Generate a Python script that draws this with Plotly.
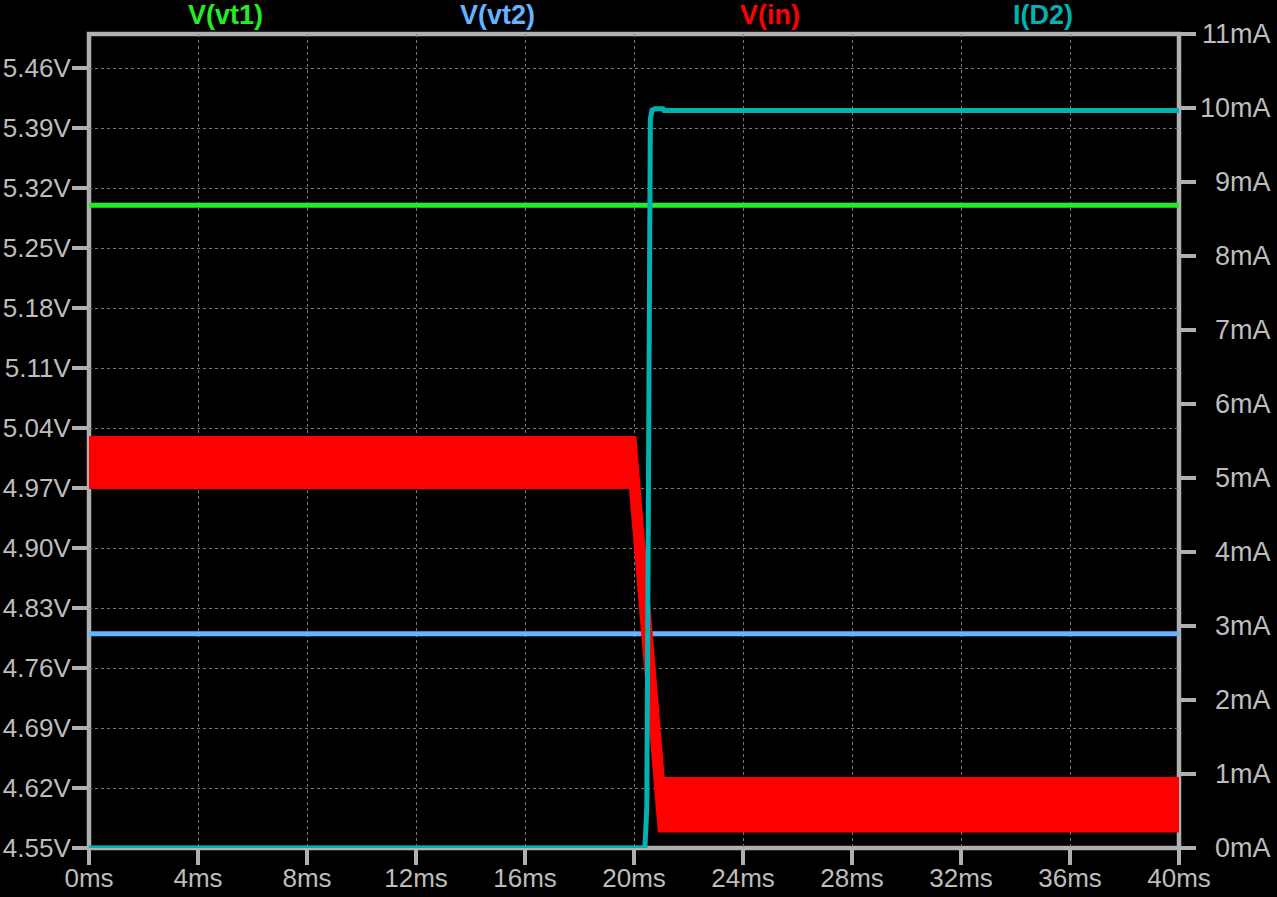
import plotly.graph_objects as go

# ---- data ----
t_range = [0, 40]
x_ticks = [0, 4, 8, 12, 16, 20, 24, 28, 32, 36, 40]
v_ticks = [4.55, 4.62, 4.69, 4.76, 4.83, 4.90, 4.97, 5.04, 5.11, 5.18, 5.25, 5.32, 5.39, 5.46]
i_ticks = [0, 1, 2, 3, 4, 5, 6, 7, 8, 9, 10, 11]

vt1_t = [0, 40]
vt1_v = [5.30, 5.30]

vt2_t = [0, 40]
vt2_v = [4.80, 4.80]

# V(in): noisy band, given as lower and upper envelope
vin_lo_t = [0, 19.84, 20.90, 40]
vin_lo_v = [4.970, 4.970, 4.569, 4.569]
vin_hi_t = [0, 20.06, 21.10, 40]
vin_hi_v = [5.030, 5.030, 4.632, 4.632]

id2_t = [0, 20.40, 20.47, 20.55, 20.60, 20.66, 20.76, 21.06, 21.10, 40]
id2_i = [0, 0, 0.55, 5.6, 9.85, 9.97, 9.99, 9.99, 9.966, 9.966]

GRAY = "#b0b0b0"
TXT = "#bdbdbd"
FONT = "Liberation Sans, Arial, sans-serif"
C_VT1, C_VT2, C_VIN, C_ID2 = "#22ee22", "#66b3ff", "#ff0000", "#00b2b2"

fig = go.Figure()
fig.add_trace(go.Scatter(x=vt1_t, y=vt1_v, mode="lines", line=dict(color=C_VT1, width=5), yaxis="y"))
fig.add_trace(go.Scatter(x=vt2_t, y=vt2_v, mode="lines", line=dict(color=C_VT2, width=5), yaxis="y"))
fig.add_trace(go.Scatter(x=vin_lo_t, y=vin_lo_v, mode="lines", line=dict(color=C_VIN, width=1.5), yaxis="y"))
fig.add_trace(go.Scatter(x=vin_hi_t, y=vin_hi_v, mode="lines", line=dict(color=C_VIN, width=1.5),
                         fill="tonexty", fillcolor=C_VIN, yaxis="y"))
fig.add_trace(go.Scatter(x=id2_t, y=id2_i, mode="lines", line=dict(color=C_ID2, width=5), yaxis="y2"))

# plot frame
fig.add_shape(type="rect", xref="paper", yref="paper", x0=0, y0=0, x1=1, y1=1,
              line=dict(color=GRAY, width=4.5), layer="below")

labels = [("V(vt1)", C_VT1, 0.125), ("V(vt2)", C_VT2, 0.375),
          ("V(in)", C_VIN, 0.625), ("I(D2)", C_ID2, 0.875)]
for txt, col, xp in labels:
    fig.add_annotation(text="<b>%s</b>" % txt, x=xp, y=1, xref="paper", yref="paper",
                       xanchor="center", yanchor="bottom", yshift=3, showarrow=False,
                       font=dict(family=FONT, size=27, color=col), bgcolor="#000000", borderpad=0)

# right-axis tick labels are right-aligned (as in the reference)
for v in i_ticks:
    fig.add_annotation(text="%dmA" % v, x=1, y=v, xref="paper", yref="y2",
                       xanchor="right", yanchor="middle", xshift=94, showarrow=False,
                       font=dict(family=FONT, size=27, color=TXT))

axis_common = dict(ticks="outside", ticklen=16, tickwidth=4, tickcolor=GRAY,
                   tickfont=dict(family=FONT, size=26, color=TXT), zeroline=False,
                   showline=False, tickmode="array")

fig.update_layout(
    width=1277, height=897,
    paper_bgcolor="#000000", plot_bgcolor="#000000",
    showlegend=False,
    margin=dict(l=89, r=98, t=34, b=49, autoexpand=False),
    xaxis=dict(range=t_range, tickvals=x_ticks, ticktext=["%dms" % v for v in x_ticks],
               showgrid=True, gridcolor="#7a7a7a", gridwidth=1, griddash="3px,3px",
               ticklabelstandoff=-9, **axis_common),
    yaxis=dict(range=[4.55, 5.50], tickvals=v_ticks, ticktext=["%.2fV" % v for v in v_ticks],
               showgrid=True, gridcolor="#7a7a7a", gridwidth=1, griddash="3px,3px",
               ticklabelstandoff=-4, **axis_common),
    yaxis2=dict(range=[0, 11], tickvals=i_ticks, showticklabels=False,
                overlaying="y", side="right", showgrid=False, **axis_common),
)

fig.write_html("out.html", config={"displayModeBar": False},
               post_script="document.body.style.margin='0';document.body.style.overflow='hidden';")
